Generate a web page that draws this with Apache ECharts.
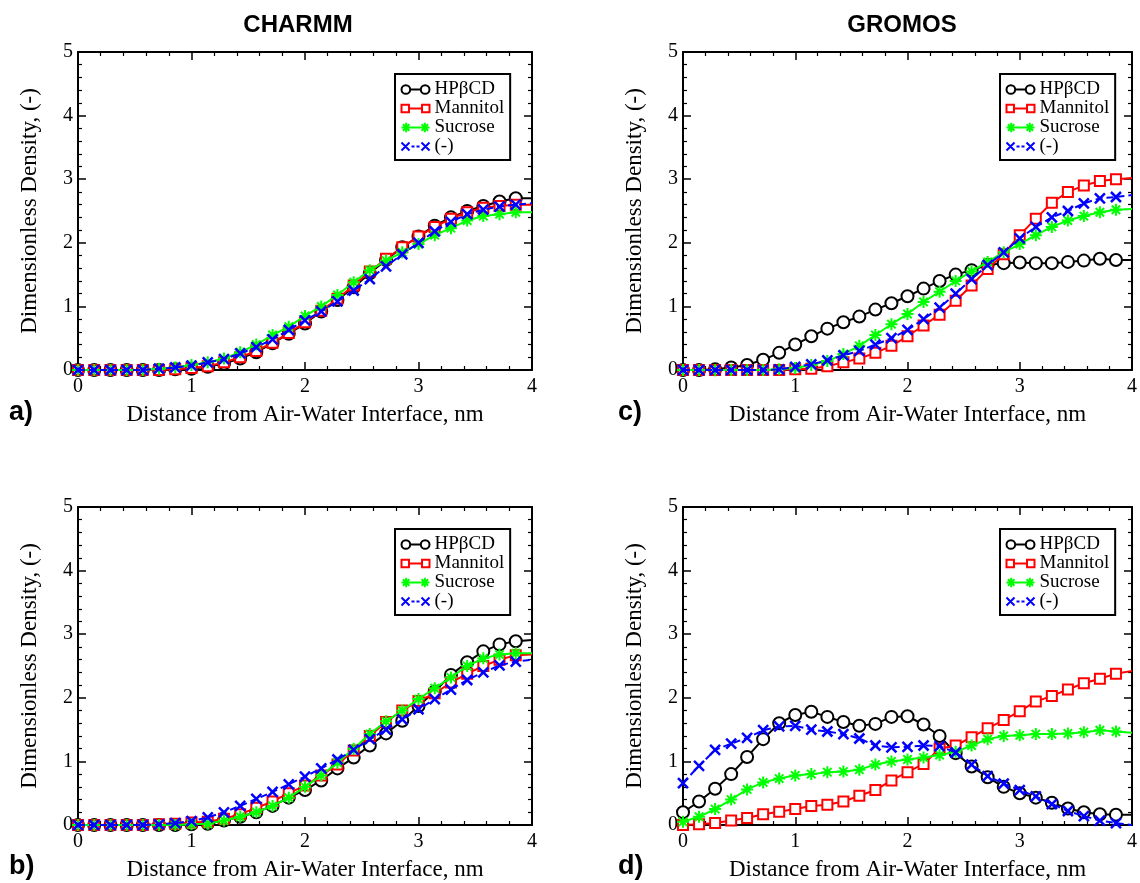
<!DOCTYPE html>
<html><head><meta charset="utf-8">
<script src="https://cdn.jsdelivr.net/npm/echarts@6/dist/echarts.min.js"></script>
<style>html,body{margin:0;padding:0;background:#fff}#c{width:1140px;height:883px}</style>
</head><body><div id="c"></div><script>
// Distance from air-water interface, nm (sampling positions)
const xs = [0, 0.143, 0.286, 0.429, 0.571, 0.714, 0.857, 1.0, 1.143, 1.286, 1.429, 1.571, 1.714, 1.857, 2.0,
  2.143, 2.286, 2.429, 2.571, 2.714, 2.857, 3.0, 3.143, 3.286, 3.429, 3.571, 3.714, 3.857, 4.0];
const seriesNames = ['HPβCD', 'Mannitol', 'Sucrose', '(-)'];
const xTicks = [0, 1, 2, 3, 4];
const yTicks = [0, 1, 2, 3, 4, 5];

// a) CHARMM top
const a_hp   = [0,0,0,0,0,0,0.01,0.02,0.05,0.1,0.18,0.28,0.42,0.57,0.73,0.92,1.1,1.3,1.52,1.73,1.93,2.1,2.27,2.4,2.5,2.58,2.65,2.7,2.7];
const a_man  = [0,0,0,0,0,0,0.01,0.03,0.06,0.12,0.2,0.3,0.43,0.58,0.75,0.93,1.12,1.33,1.55,1.75,1.93,2.1,2.25,2.38,2.48,2.55,2.58,2.6,2.6];
const a_suc  = [0,0,0,0,0,0.02,0.04,0.08,0.12,0.18,0.28,0.4,0.55,0.68,0.85,1.0,1.18,1.38,1.57,1.72,1.85,1.98,2.12,2.23,2.35,2.42,2.45,2.48,2.48];
const a_none = [0,0,0,0,0,0.02,0.04,0.07,0.12,0.17,0.26,0.36,0.48,0.63,0.78,0.92,1.08,1.25,1.43,1.63,1.82,2.0,2.18,2.33,2.45,2.52,2.57,2.6,2.62];
// b) CHARMM bottom
const b_hp   = [0,0,0,0,0,0,0,0.01,0.02,0.07,0.13,0.2,0.3,0.43,0.55,0.7,0.89,1.06,1.25,1.44,1.64,1.87,2.1,2.36,2.56,2.73,2.84,2.89,2.91];
const b_man  = [0,0,0,0,0,0.01,0.02,0.04,0.05,0.1,0.17,0.27,0.37,0.5,0.62,0.78,0.95,1.17,1.4,1.62,1.8,1.95,2.07,2.24,2.38,2.5,2.6,2.67,2.68];
const b_suc  = [0,0,0,0,0,0,0,0.01,0.02,0.07,0.13,0.2,0.3,0.43,0.6,0.78,0.98,1.2,1.43,1.63,1.8,1.98,2.15,2.32,2.5,2.62,2.68,2.7,2.7];
const b_none = [0,0,0,0,0,0.01,0.03,0.06,0.12,0.2,0.3,0.41,0.52,0.64,0.76,0.89,1.03,1.18,1.35,1.5,1.66,1.82,1.98,2.13,2.28,2.4,2.51,2.57,2.6];
// c) GROMOS top
const c_hp   = [0,0,0.01,0.04,0.08,0.16,0.27,0.4,0.53,0.65,0.75,0.84,0.95,1.05,1.16,1.28,1.4,1.5,1.57,1.65,1.68,1.69,1.68,1.68,1.7,1.72,1.75,1.73,1.73];
const c_man  = [0,0,0,0,0,0,0,0.01,0.02,0.06,0.12,0.18,0.27,0.38,0.53,0.7,0.87,1.09,1.33,1.59,1.82,2.12,2.38,2.63,2.8,2.9,2.97,3.0,3.02];
const c_suc  = [0,0,0,0,0,0,0.01,0.03,0.08,0.14,0.25,0.38,0.55,0.72,0.88,1.07,1.23,1.4,1.55,1.7,1.85,1.98,2.12,2.25,2.35,2.42,2.48,2.52,2.53];
const c_none = [0,0,0,0,0,0,0.01,0.05,0.09,0.15,0.23,0.3,0.4,0.5,0.63,0.8,0.98,1.2,1.43,1.65,1.85,2.07,2.25,2.4,2.5,2.62,2.7,2.72,2.75];
// d) GROMOS bottom
const d_hp   = [0.2,0.37,0.57,0.8,1.07,1.35,1.6,1.73,1.78,1.7,1.62,1.56,1.59,1.7,1.71,1.58,1.4,1.13,0.92,0.75,0.6,0.5,0.43,0.35,0.26,0.2,0.17,0.16,0.16];
const d_man  = [0,0.01,0.03,0.07,0.11,0.17,0.21,0.25,0.3,0.32,0.37,0.46,0.55,0.7,0.83,0.96,1.2,1.25,1.38,1.52,1.65,1.79,1.94,2.03,2.13,2.23,2.3,2.38,2.42];
const d_suc  = [0.05,0.13,0.25,0.4,0.56,0.67,0.73,0.78,0.8,0.83,0.84,0.87,0.95,1.0,1.03,1.06,1.1,1.15,1.25,1.35,1.4,1.41,1.43,1.43,1.44,1.46,1.49,1.47,1.45];
const d_none = [0.66,0.93,1.18,1.28,1.37,1.49,1.55,1.56,1.5,1.47,1.43,1.36,1.25,1.22,1.23,1.25,1.24,1.14,0.95,0.77,0.65,0.55,0.45,0.33,0.22,0.14,0.07,0.03,0.0];

const panels = [
  {grid: {left: 78, top: 52, width: 454, height: 318}, data: [a_hp, a_man, a_suc, a_none]},
  {grid: {left: 78, top: 507, width: 454, height: 318}, data: [b_hp, b_man, b_suc, b_none]},
  {grid: {left: 683, top: 52, width: 450, height: 318}, data: [c_hp, c_man, c_suc, c_none]},
  {grid: {left: 683, top: 507, width: 450, height: 318}, data: [d_hp, d_man, d_suc, d_none]}
];

const STAR = 'M5,0L5,10M0,5L10,5M1.5,1.5L8.5,8.5M8.5,1.5L1.5,8.5';
const styles = [
  {color: '#000000', symbol: 'emptyCircle', size: 12, type: 'solid', bw: 2,
   icon: 'path://M0.5,5A4.5,4.5,0,1,1,9.5,5A4.5,4.5,0,1,1,0.5,5ZM9.5,5L20.5,5M20.5,5A4.5,4.5,0,1,1,29.5,5A4.5,4.5,0,1,1,20.5,5Z'},
  {color: '#ff0000', symbol: 'emptyRect', size: 10, type: 'solid', bw: 2,
   icon: 'path://M0,1L8,1L8,9L0,9ZM8,5L22,5M22,1L30,1L30,9L22,9Z'},
  {color: '#00ff00', symbol: 'path://' + STAR, size: 12, type: 'solid', bw: 2,
   icon: 'path://M5,0L5,10M0,5L10,5M1.5,1.5L8.5,8.5M8.5,1.5L1.5,8.5M10,5L20,5M25,0L25,10M20,5L30,5M21.5,1.5L28.5,8.5M28.5,1.5L21.5,8.5'},
  {color: '#0000ff', symbol: 'path://M0,0L10,10M10,0L0,10', size: 10, type: [7, 4], bw: 2.5,
   icon: 'path://M1,1L9,9M9,1L1,9M11,5L14,5M16,5L19,5M21,1L29,9M29,1L21,9'}
];

const serif = 'Liberation Serif';
const axisLineStyle = {color: '#000', width: 2};
function xAxisFor(i, pos) {
  const base = {
    gridIndex: i, type: 'value', min: xTicks[0], max: xTicks[xTicks.length - 1], interval: 1, position: pos,
    axisLine: {show: true, onZero: false, lineStyle: axisLineStyle},
    axisTick: {show: true, inside: true, length: 8, lineStyle: {color: '#000', width: 1.5}},
    minorTick: {show: true, splitNumber: 5, length: 4, lineStyle: {color: '#000', width: 1.2}},
    splitLine: {show: false},
    axisLabel: {show: pos === 'bottom', fontFamily: serif, fontSize: 20, color: '#000', margin: 7}
  };
  if (pos === 'bottom') {
    base.name = 'Distance from Air-Water Interface, nm';
    base.nameLocation = 'middle';
    base.nameGap = 33;
    base.nameTextStyle = {fontFamily: serif, fontSize: 23, color: '#000'};
  }
  return base;
}
function yAxisFor(i, pos) {
  const base = {
    gridIndex: i, type: 'value', min: yTicks[0], max: yTicks[yTicks.length - 1], interval: 1, position: pos,
    axisLine: {show: true, onZero: false, lineStyle: axisLineStyle},
    axisTick: {show: true, inside: true, length: 8, lineStyle: {color: '#000', width: 1.5}},
    minorTick: {show: true, splitNumber: 5, length: 4, lineStyle: {color: '#000', width: 1.2}},
    splitLine: {show: false},
    axisLabel: {show: pos === 'left', fontFamily: serif, fontSize: 20, color: '#000', margin: 5}
  };
  if (pos === 'left') {
    base.name = 'Dimensionless Density, (-)';
    base.nameLocation = 'middle';
    base.nameGap = 37;
    base.nameTextStyle = {fontFamily: serif, fontSize: 23, color: '#000'};
  }
  return base;
}

const grids = [], xAxes = [], yAxes = [], series = [], legends = [];
panels.forEach((p, i) => {
  grids.push(Object.assign({containLabel: false}, p.grid));
  xAxes.push(xAxisFor(i, 'bottom'), xAxisFor(i, 'top'));
  yAxes.push(yAxisFor(i, 'left'), yAxisFor(i, 'right'));
  p.data.forEach((vals, j) => {
    const st = styles[j];
    const last = vals.length - 1;
    series.push({
      type: 'line', name: seriesNames[j], xAxisIndex: 2 * i, yAxisIndex: 2 * i,
      data: vals.map((v, k) => k === last ? {value: [xs[k], v], symbol: 'none'} : [xs[k], v]),
      symbol: st.symbol, symbolSize: st.size, showAllSymbol: true, clip: true,
      lineStyle: {color: st.color, width: 2, type: st.type},
      itemStyle: {color: st.color, borderColor: st.color, borderWidth: st.bw},
      emphasis: {disabled: true}, z: 2 + j
    });
  });
  legends.push({
    left: p.grid.left + 317, top: p.grid.top + 22, orient: 'vertical',
    backgroundColor: '#fff', borderColor: '#000', borderWidth: 2, borderRadius: 0,
    padding: [6, 6, 4, 4], itemGap: 0, itemWidth: 28, itemHeight: 10, selectedMode: false,
    textStyle: {fontFamily: serif, fontSize: 19, color: '#000', lineHeight: 19},
    data: seriesNames.map((n, j) => ({
      name: n, icon: styles[j].icon,
      itemStyle: {color: 'none', borderColor: styles[j].color, borderWidth: 2}
    }))
  });
});

const titleFont = 'bold 24px "Liberation Sans"';
const letterFont = 'bold 27px "Liberation Sans"';
const graphics = [
  {type: 'text', x: 298, y: 25, style: {text: 'CHARMM', font: titleFont, fill: '#000', align: 'center', verticalAlign: 'middle'}},
  {type: 'text', x: 902, y: 25, style: {text: 'GROMOS', font: titleFont, fill: '#000', align: 'center', verticalAlign: 'middle'}},
  {type: 'text', x: 9, y: 413, style: {text: 'a)', font: letterFont, fill: '#000', align: 'left', verticalAlign: 'middle'}},
  {type: 'text', x: 9, y: 867, style: {text: 'b)', font: letterFont, fill: '#000', align: 'left', verticalAlign: 'middle'}},
  {type: 'text', x: 618, y: 413, style: {text: 'c)', font: letterFont, fill: '#000', align: 'left', verticalAlign: 'middle'}},
  {type: 'text', x: 618, y: 867, style: {text: 'd)', font: letterFont, fill: '#000', align: 'left', verticalAlign: 'middle'}}
];

const chart = echarts.init(document.getElementById('c'), null, {renderer: 'canvas'});
chart.setOption({
  animation: false,
  backgroundColor: '#fff',
  grid: grids, xAxis: xAxes, yAxis: yAxes, series: series, legend: legends,
  graphic: graphics
});
</script></body></html>
